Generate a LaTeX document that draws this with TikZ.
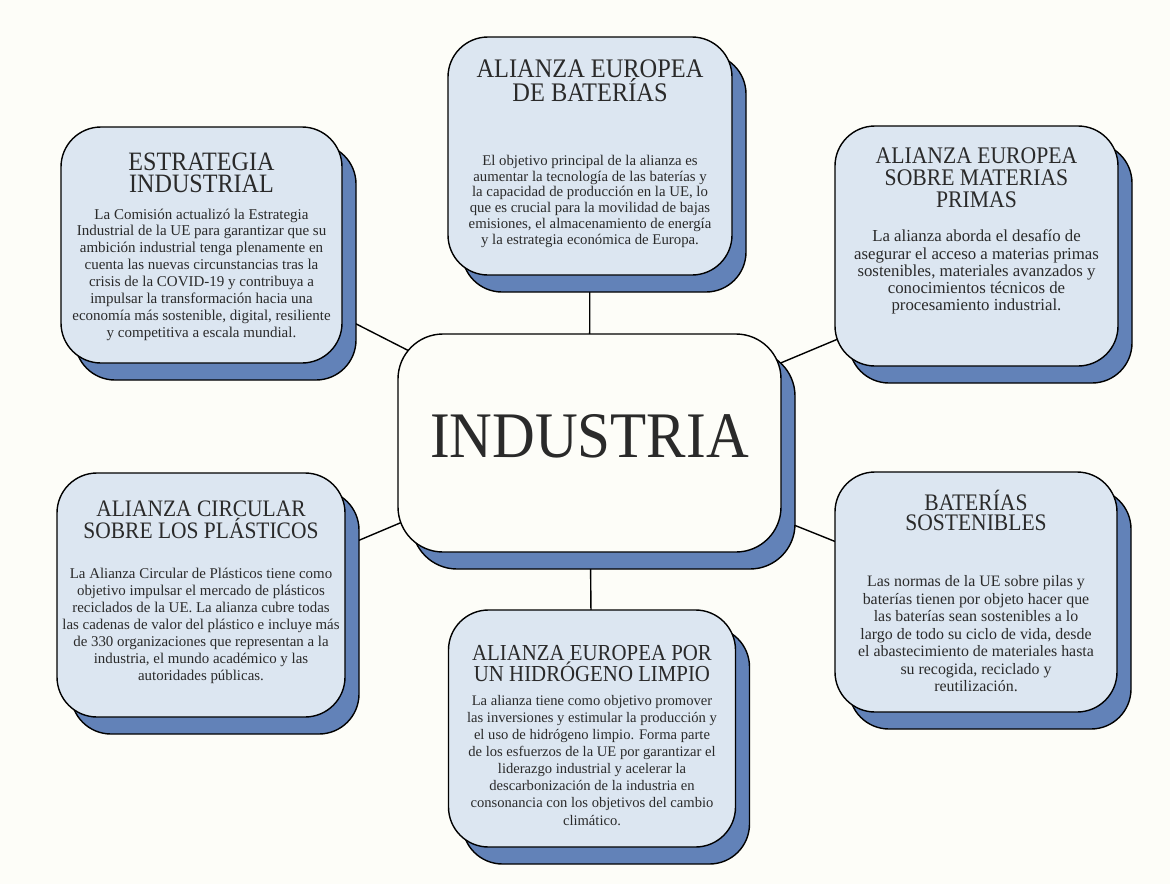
\documentclass[tikz,border=0pt]{standalone}
\usepackage{fontspec}
\setmainfont{Liberation Serif}
\newfontfamily\titlefont[FakeStretch=0.91]{Liberation Serif}
\usetikzlibrary{shadows,backgrounds}
\definecolor{paper}{HTML}{FDFDF8}
\definecolor{cardblue}{HTML}{DCE6F1}
\definecolor{shadeblue}{HTML}{6282B8}
\definecolor{inkgray}{HTML}{2A2A2A}
\newcommand{\headfont}[2]{\titlefont\fontsize{#1}{#2}\selectfont}
\newcommand{\bodyfont}[2]{\fontsize{#1}{#2}\selectfont}
\begin{document}
\begin{tikzpicture}[x=1pt,y=-1pt]
        \tikzset{card/.style={draw=black, line width=1.4pt, fill=cardblue, rounded corners=40pt, inner sep=0pt,
            general shadow={shadow xshift=14pt, shadow yshift=-17pt, fill=shadeblue, draw=black, line width=1.4pt}},
          hub/.style={card, fill=paper, rounded corners=45pt},
          head/.style={align=center, text=inkgray, inner sep=0pt, anchor=base},
          body/.style={align=center, text=inkgray, inner sep=0pt, anchor=base},
          link/.style={line width=1.4pt}}
        \useasboundingbox (0,0) rectangle (1170,884);
        % centre (text nodes sit on their last baseline)
        \node[hub, minimum width=383pt, minimum height=218pt] (ind) at (589.5,443) {};
        \node[head, font=\headfont{65}{65}] (indtext) at (589.5,457) {INDUSTRIA};
        % cards
        \node[card, minimum width=281pt, minimum height=236pt] (estr) at (201.5,245) {};
        \node[head, font=\headfont{26.5}{22.7}] (estrhead) at (201.5,192.7) {ESTRATEGIA\\INDUSTRIAL};
        \node[body, font=\bodyfont{15}{16.85}] (estrtext) at (201.5,337) {La Comisión actualizó la Estrategia\\Industrial de la UE para garantizar que su\\ambición industrial tenga plenamente en\\cuenta las nuevas circunstancias tras la\\crisis de la COVID-19 y contribuya a\\impulsar la transformación hacia una\\economía más sostenible, digital, resiliente\\y competitiva a escala mundial.};
        \node[card, minimum width=284pt, minimum height=238pt] (bat) at (590,156) {};
        \node[head, font=\headfont{26.8}{21}] (bathead) at (590,101.7) {ALIANZA EUROPEA\\DE BATERÍAS};
        \node[body, font=\bodyfont{14.8}{15.75}] (battext) at (590,244.2) {El objetivo principal de la alianza es\\aumentar la tecnología de las baterías y\\la capacidad de producción en la UE, lo\\que es crucial para la movilidad de bajas\\emisiones, el almacenamiento de energía\\y la estrategia económica de Europa.};
        \node[card, minimum width=283pt, minimum height=240pt] (mat) at (976.5,246) {};
        \node[head, font=\headfont{23.8}{22}] (mathead) at (976.5,207.3) {ALIANZA EUROPEA\\SOBRE MATERIAS\\PRIMAS};
        \node[body, font=\bodyfont{16.8}{17.3}] (mattext) at (976.5,310.9) {La alianza aborda el desafío de\\asegurar el acceso a materias primas\\sostenibles, materiales avanzados y\\conocimientos técnicos de\\procesamiento industrial.};
        \node[card, minimum width=288pt, minimum height=244pt] (plas) at (201,595) {};
        \node[head, font=\headfont{23.6}{20}] (plashead) at (201,538.3) {ALIANZA CIRCULAR\\SOBRE LOS PLÁSTICOS};
        \node[body, font=\bodyfont{14.9}{16.85}] (plastext) at (201,680) {La Alianza Circular de Plásticos tiene como\\objetivo impulsar el mercado de plásticos\\reciclados de la UE. La alianza cubre todas\\las cadenas de valor del plástico e incluye más\\de 330 organizaciones que representan a la\\industria, el mundo académico y las\\autoridades públicas.};
        \node[card, minimum width=287pt, minimum height=237pt] (hid) at (592,728.5) {};
        \node[head, font=\headfont{22.9}{21}] (hidhead) at (592,681.7) {ALIANZA EUROPEA POR\\UN HIDRÓGENO LIMPIO};
        \node[body, font=\bodyfont{14.6}{17.1}] (hidtext) at (592,825) {La alianza tiene como objetivo promover\\las inversiones y estimular la producción y\\el uso de hidrógeno limpio. Forma parte\\de los esfuerzos de la UE por garantizar el\\liderazgo industrial y acelerar la\\descarbonización de la industria en\\consonancia con los objetivos del cambio\\climático.};
        \node[card, minimum width=282pt, minimum height=240pt] (sost) at (976,592) {};
        \node[head, font=\headfont{23.7}{20.7}] (sosthead) at (976,530.7) {BATERÍAS\\SOSTENIBLES};
        \node[body, font=\bodyfont{15.9}{17.5}] (sosttext) at (976,691.7) {Las normas de la UE sobre pilas y\\baterías tienen por objeto hacer que\\las baterías sean sostenibles a lo\\largo de todo su ciclo de vida, desde\\el abastecimiento de materiales hasta\\su recogida, reciclado y\\reutilización.};
        % links behind the cards
        \begin{scope}[on background layer]
          \fill[paper] (0,0) rectangle (1170,884);
          \draw[link] (ind.center) -- (estr.center);
          \draw[link] (ind.center) -- (bat.center);
          \draw[link] (ind.center) -- ([yshift=-35pt]mat.center);
          \draw[link] (ind.center) -- ([yshift=-12pt]plas.center);
          \draw[link] (ind.center) -- (hid.center);
          \draw[link] (ind.center) -- ([yshift=-6pt]sost.center);
        \end{scope}
\end{tikzpicture}
\end{document}
